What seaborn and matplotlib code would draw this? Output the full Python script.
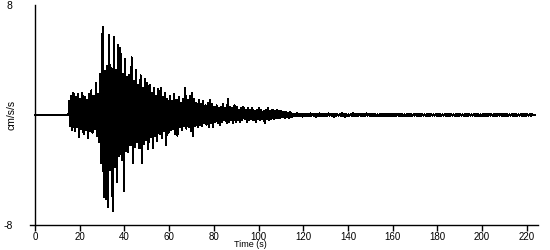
import numpy as np
import pandas as pd
import matplotlib
matplotlib.use("Agg")
import matplotlib.pyplot as plt
import seaborn as sns

# ---------------- data ----------------
onset_time = 15.0          # s, start of shaking
pre_event_times = [0.0, 15.0]
pre_event_values = [0.0, 0.0]
half_period = 0.5          # s between successive positive / negative peaks

# positive peaks, one per second from 15 s to 223 s (cm/s/s)
upper_peaks = [
    1.0, 1.4, 1.6, 1.3, 1.5, 1.2, 1.6, 1.3, 1.1, 1.5,
    1.8, 1.4, 2.3, 1.5, 3.0, 6.4, 3.2, 3.6, 5.8, 3.4,
    5.7, 3.3, 5.1, 4.9, 3.0, 4.1, 2.8, 2.9, 4.2, 2.5,
    3.3, 2.2, 2.9, 2.0, 2.6, 2.3, 2.2, 1.6, 2.0, 1.4,
    1.9, 2.0, 1.3, 1.6, 1.2, 1.4, 1.0, 1.5, 1.1, 1.3,
    0.9, 1.2, 2.0, 1.1, 1.4, 1.6, 1.2, 0.9, 1.1, 0.8,
    1.0, 0.7, 0.9, 1.1, 0.8, 0.6, 0.7, 0.5, 0.6, 0.8,
    0.5, 1.2, 0.6, 0.5, 0.7, 0.6, 0.4, 0.5, 0.6, 0.4,
    0.5, 0.4, 0.5, 0.3, 0.4, 0.5, 0.4, 0.3, 0.4, 0.5,
    0.3, 0.4, 0.3, 0.4, 0.3, 0.3, 0.2, 0.25, 0.15, 0.2,
    0.1, 0.08, 0.12, 0.05, 0.08, 0.1, 0.07, 0.05, 0.12, 0.08,
    0.05, 0.08, 0.12, 0.05, 0.08, 0.05, 0.12, 0.08, 0.05, 0.08,
    0.08, 0.05, 0.12, 0.08, 0.05, 0.05, 0.08, 0.12, 0.05, 0.08,
    0.05, 0.08, 0.05, 0.12, 0.08, 0.05, 0.08, 0.05, 0.05, 0.08,
    0.1, 0.05, 0.08, 0.05, 0.1, 0.05, 0.08, 0.05, 0.05, 0.08,
    0.05, 0.05, 0.08, 0.05, 0.05, 0.1, 0.05, 0.05, 0.08, 0.05,
    0.05, 0.05, 0.08, 0.05, 0.05, 0.05, 0.08, 0.05, 0.05, 0.05,
    0.08, 0.05, 0.05, 0.05, 0.05, 0.08, 0.05, 0.05, 0.05, 0.08,
    0.05, 0.05, 0.05, 0.08, 0.05, 0.05, 0.05, 0.05, 0.08, 0.05,
    0.05, 0.05, 0.05, 0.08, 0.05, 0.05, 0.05, 0.05, 0.05, 0.08,
    0.05, 0.05, 0.05, 0.05, 0.05, 0.05, 0.05, 0.05, 0.03,
]

# negative peaks, half a second after each positive peak (cm/s/s)
lower_peaks = [
    -0.8, -1.1, -1.2, -0.9, -1.6, -1.0, -1.4, -1.1, -1.7, -1.2,
    -1.3, -1.0, -1.5, -2.0, -3.5, -6.0, -6.1, -6.7, -4.0, -7.0,
    -3.8, -4.9, -3.0, -3.3, -5.5, -2.6, -2.7, -2.2, -3.5, -2.3,
    -2.0, -2.4, -3.5, -2.1, -1.8, -2.5, -1.6, -2.4, -1.5, -1.9,
    -1.4, -1.7, -1.2, -2.2, -1.3, -1.1, -1.0, -1.4, -1.5, -0.9,
    -1.1, -0.8, -1.0, -0.9, -1.2, -1.5, -0.8, -0.9, -0.7, -0.8,
    -0.6, -0.7, -0.9, -0.6, -0.9, -0.5, -0.6, -0.7, -0.5, -0.4,
    -0.6, -0.5, -0.4, -0.6, -0.5, -0.4, -0.5, -0.4, -0.3, -0.5,
    -0.4, -0.3, -0.4, -0.5, -0.3, -0.4, -0.3, -0.6, -0.3, -0.4,
    -0.3, -0.3, -0.25, -0.2, -0.25, -0.15, -0.2, -0.15, -0.2, -0.15,
    -0.08, -0.1, -0.05, -0.08, -0.12, -0.05, -0.08, -0.1, -0.05, -0.08,
    -0.12, -0.05, -0.08, -0.05, -0.1, -0.08, -0.05, -0.08, -0.12, -0.05,
    -0.05, -0.08, -0.05, -0.12, -0.08, -0.05, -0.05, -0.08, -0.1, -0.05,
    -0.08, -0.05, -0.1, -0.05, -0.08, -0.05, -0.05, -0.08, -0.05, -0.1,
    -0.05, -0.08, -0.05, -0.08, -0.05, -0.1, -0.05, -0.08, -0.05, -0.05,
    -0.08, -0.05, -0.05, -0.08, -0.05, -0.05, -0.05, -0.08, -0.05, -0.05,
    -0.05, -0.08, -0.05, -0.05, -0.05, -0.05, -0.08, -0.05, -0.05, -0.05,
    -0.05, -0.05, -0.08, -0.05, -0.05, -0.05, -0.05, -0.05, -0.08, -0.05,
    -0.05, -0.05, -0.05, -0.05, -0.08, -0.05, -0.05, -0.05, -0.05, -0.05,
    -0.05, -0.08, -0.05, -0.05, -0.05, -0.05, -0.05, -0.05, -0.05, -0.05,
    -0.05, -0.05, -0.05, -0.05, -0.05, -0.05, -0.05, -0.03, -0.03,
]

x_ticks = [0, 20, 40, 60, 80, 100, 120, 140, 160, 180, 200, 220]
y_ticks = [-8, 8]
y_tick_labels = ["-8", "8"]
x_label = "Time (s)"
y_label = "cm/s/s"

# ---------------- build the trace ----------------
assert len(upper_peaks) == len(lower_peaks)
peaks = np.column_stack((upper_peaks, lower_peaks)).ravel()
peak_times = onset_time + 0.25 + half_period * np.arange(len(peaks))
times = np.concatenate([pre_event_times, peak_times])
accel = np.concatenate([pre_event_values, peaks])
df = pd.DataFrame({"time": times, "accel": accel})

# ---------------- plot ----------------
sns.set_theme(style="ticks")
plt.rcParams["font.family"] = ["Liberation Sans", "DejaVu Sans"]

fig = plt.figure(figsize=(5.5, 2.5), dpi=100)
ax = fig.add_axes([30 / 550, 1 - 225 / 250, (538 - 30) / 550, (225 - 5) / 250])

sns.lineplot(data=df, x="time", y="accel", ax=ax, color="black",
             linewidth=0.72, estimator=None, sort=False, antialiased=False)

ax.set_xlim(-2.2, 225)
ax.set_ylim(-8, 8)
ax.spines["left"].set_position(("data", 0))
for s in ("top", "right"):
    ax.spines[s].set_visible(False)
for s in ("left", "bottom"):
    ax.spines[s].set_color("black")
    ax.spines[s].set_linewidth(1.0)

ax.set_xticks(x_ticks)
ax.set_xticklabels([str(v) for v in x_ticks])
ax.set_yticks(y_ticks)
ax.set_yticklabels(y_tick_labels)
ax.tick_params(axis="x", length=4, width=1, color="black", labelsize=7,
               pad=1, labelcolor="black")
ax.tick_params(axis="y", length=0, labelsize=7.5, pad=16, labelcolor="black")

ax.set_xlabel(x_label, fontsize=6.5, color="black")
ax.set_ylabel(y_label, fontsize=7.5, color="black")
ax.xaxis.set_label_coords((250 - 30) / 508, -0.07)
ax.yaxis.set_label_coords((17 - 30) / 508, 0.5)

fig.savefig("out.png", dpi=100)
